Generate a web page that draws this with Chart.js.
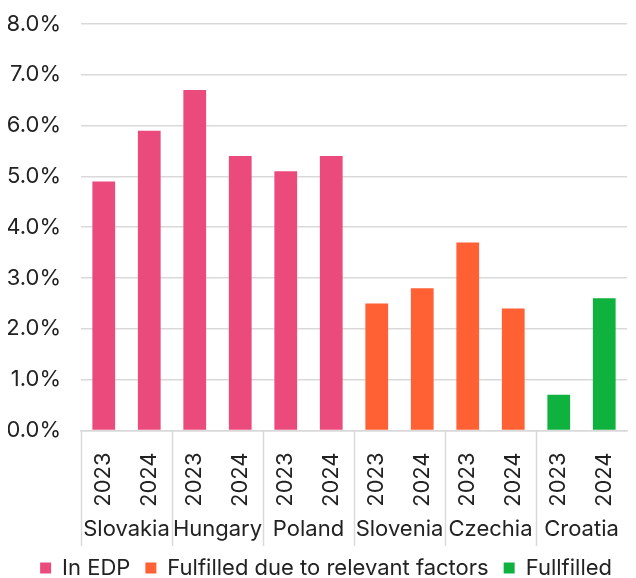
<!DOCTYPE html>
<html>
<head>
<meta charset="utf-8">
<script src="https://cdn.jsdelivr.net/npm/chart.js@4"></script>
<style>
    body { margin: 0; background: #fff; }
    #wrap { width: 636px; height: 578px; }
</style>
</head>
<body>
<div id="wrap"><canvas id="grafico"></canvas></div>
<script>
// ---------------- DADOS ----------------
const anos = ["2023", "2024", "2023", "2024", "2023", "2024", "2023", "2024", "2023", "2024", "2023", "2024"];
const paises = ["Slovakia", "Hungary", "Poland", "Slovenia", "Czechia", "Croatia"];
const emEdp = [4.9, 5.9, 6.7, 5.4, 5.1, 5.4, null, null, null, null, null, null];
const fatoresRelevantes = [null, null, null, null, null, null, 2.5, 2.8, 3.7, 2.4, null, null];
const cumprido = [null, null, null, null, null, null, null, null, null, null, 0.7, 2.6];
const ticksY = [0, 1, 2, 3, 4, 5, 6, 7, 8];

const FONTE = "Inter, 'Noto Sans', sans-serif";
const COR_TEXTO = "#222";
const COR_GRADE = "#d9d9d9";

// ---------------- PLUGIN: PAÍSES ----------------
const gruposPaises = {
    id: "gruposPaises",
    afterDraw(chart) {
        const x = chart.scales.x;
        const ctx = chart.ctx;
        const passo = x.getPixelForValue(1) - x.getPixelForValue(0);

        ctx.save();
        ctx.strokeStyle = COR_GRADE;
        ctx.lineWidth = 1.5;
        ctx.fillStyle = COR_TEXTO;
        ctx.font = "22px " + FONTE;
        ctx.textAlign = "center";
        ctx.textBaseline = "middle";

        paises.forEach((p, i) => {
            const a = x.getPixelForValue(i * 2);
            const b = x.getPixelForValue(i * 2 + 1);
            const esq = Math.round(a - passo / 2) + 0.5;

            ctx.beginPath();
            ctx.moveTo(esq, x.top);
            ctx.lineTo(esq, x.bottom + 4);
            ctx.stroke();

            ctx.fillText(p, (a + b) / 2, x.bottom - 13);
        });
        ctx.restore();
    }
};

// ---------------- GRÁFICO ----------------
new Chart(document.getElementById("grafico"), {
    type: "bar",
    data: {
        labels: anos,
        datasets: [
            { label: "In EDP", data: emEdp, backgroundColor: "#EB4B7C" },
            { label: "Fulfilled due to relevant factors", data: fatoresRelevantes, backgroundColor: "#FF6034" },
            { label: "Fullfilled", data: cumprido, backgroundColor: "#10B23F" }
        ]
    },
    options: {
        responsive: true,
        maintainAspectRatio: false,
        animation: false,
        barPercentage: 0.5,
        categoryPercentage: 1,
        layout: { padding: { top: 24, right: 9, left: 8, bottom: -11 } },
        plugins: {
            tooltip: { enabled: false },
            legend: {
                position: "bottom",
                align: "end",
                labels: {
                    boxWidth: 11,
                    boxHeight: 11,
                    padding: 15,
                    color: COR_TEXTO,
                    font: { family: FONTE, size: 22 }
                }
            }
        },
        scales: {
            x: {
                stacked: true,
                grid: { display: false },
                border: { display: true, color: COR_GRADE, width: 1.5 },
                ticks: {
                    minRotation: 90,
                    maxRotation: 90,
                    padding: 14,
                    color: COR_TEXTO,
                    font: { family: FONTE, size: 22 }
                },
                afterFit(scale) {
                    scale.height += 21;
                    scale.paddingRight = 0;
                }
            },
            y: {
                stacked: true,
                min: ticksY[0],
                max: ticksY[ticksY.length - 1],
                afterBuildTicks(scale) {
                    scale.ticks = ticksY.map(v => ({ value: v }));
                },
                afterFit(scale) {
                    scale.width = 73;
                    scale.paddingTop = 0;
                    scale.paddingBottom = 0;
                },
                grid: { color: COR_GRADE, lineWidth: 1.5, drawTicks: false },
                border: { display: false },
                ticks: {
                    padding: 20,
                    color: COR_TEXTO,
                    font: { family: FONTE, size: 22 },
                    callback: v => v.toFixed(1) + "%"
                }
            }
        }
    },
    plugins: [gruposPaises]
});
</script>
</body>
</html>
